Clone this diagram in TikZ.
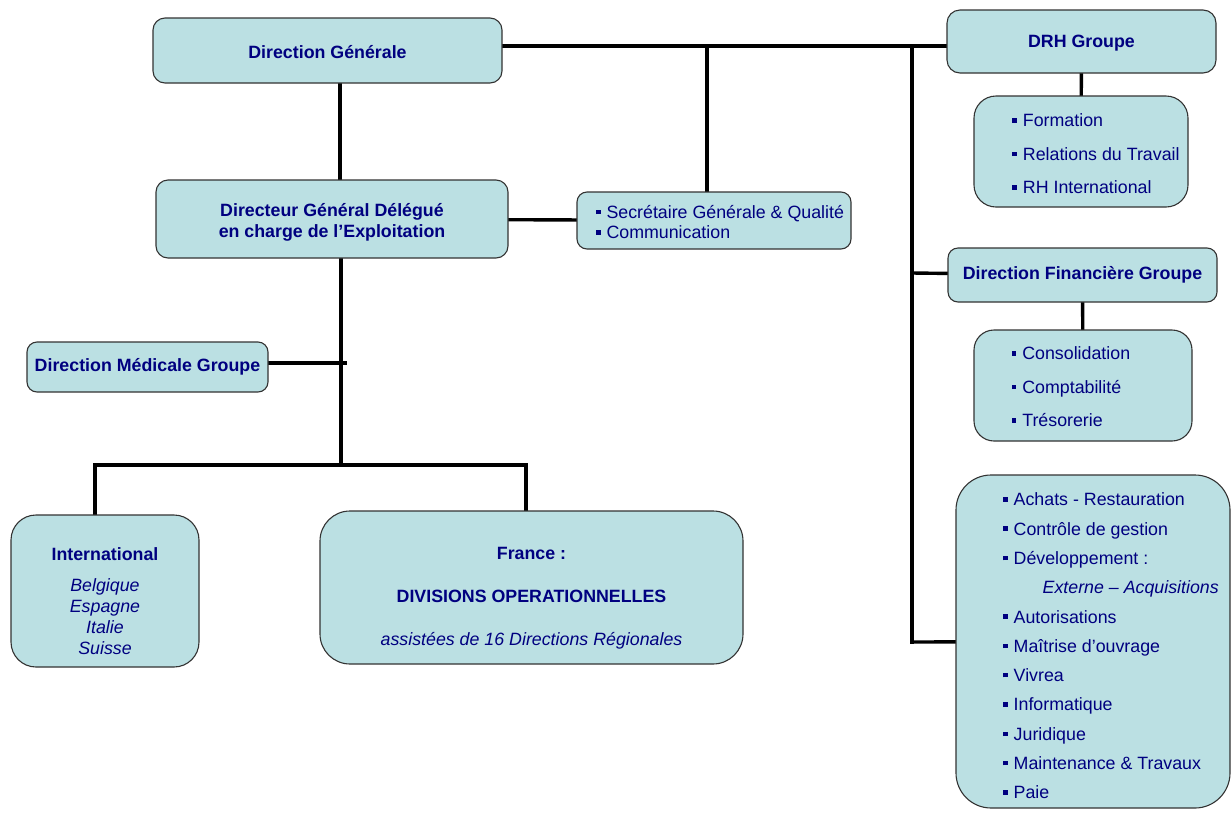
\documentclass[tikz,border=0pt]{standalone}
\usepackage{fontspec}
\setmainfont{Liberation Sans}
\usepackage{tikz}
\usetikzlibrary{
  chains,
  positioning,
  scopes,
  backgrounds
}
\definecolor{fondboite}{RGB}{187,224,227}
\definecolor{marine}{RGB}{0,0,128}
\newcommand\puce{\makebox[10.5pt][l]{\rule[4.2pt]{4.5pt}{4.5pt}}}
\newcommand\decale[3]{\raisebox{#2}[\height][\depth]{\hspace*{#1}#3\hspace*{-#1}}}
\newcommand\pays[1]{{\mdseries\itshape #1}}

\begin{document}
\begin{tikzpicture}[x=1pt,y=-1pt,
      direction/.style={
         rectangle,
         rounded corners=12pt,
         draw=black!80,
         line width=1.1pt,
         fill=fondboite,
         text=marine,
         inner sep=0pt,
         font=\fontsize{17.8}{21}\selectfont\bfseries
      },
      liste/.style={
         direction,
         font=\fontsize{17.8}{33.5}\selectfont
      },
      point/.style={coordinate},
      trait/.style={line width=3.4pt,draw=black,line cap=rect},
      every join/.style={trait},
      hv path/.style={to path={-| (\tikztotarget)}},
      vh path/.style={to path={|- (\tikztotarget)}}
    ]
    \useasboundingbox (0,0) rectangle (1232,812);

    % boites
    \node (dg) [direction, minimum width=349, minimum height=65] at (327.5,50.5)
       {\decale{0pt}{-2pt}{Direction Générale}};
    \node (dgd) [direction, minimum width=352, minimum height=78] at (332,219)
       {\decale{0pt}{-4pt}{\begin{tabular}{@{}c@{}}Directeur Général Délégué\\en charge de l’Exploitation\end{tabular}}};
    \node (secr) [liste, rounded corners=10pt, minimum width=274, minimum height=57,
       font=\fontsize{17.8}{20.5}\selectfont] at (714,220.5)
       {\decale{6pt}{-4pt}{\begin{tabular}{@{}l@{}}\puce Secrétaire Générale \& Qualité\\\puce Communication\end{tabular}}};
    \node (dmg) [direction, rounded corners=10pt, minimum width=241, minimum height=50] at (147.5,367) {Direction Médicale Groupe};
    \node (intl) [direction, rounded corners=25pt, minimum width=188, minimum height=152] at (105,591)
       {\decale{0pt}{-12pt}{\begin{tabular}{@{}c@{}}International\\[10pt]
          \pays{Belgique}\\\pays{Espagne}\\\pays{Italie}\\\pays{Suisse}\end{tabular}}};
    \node (france) [direction, rounded corners=30pt, minimum width=423, minimum height=153,
       font=\fontsize{17.8}{43}\selectfont\bfseries] at (531.5,587.5)
       {\decale{0pt}{-6pt}{\begin{tabular}{@{}c@{}}France :\\DIVISIONS OPERATIONNELLES\\
          \pays{assistées de 16 Directions Régionales}\end{tabular}}};

    \node (drh) [direction, rounded corners=13pt, minimum width=269, minimum height=63] at (1081.5,41.5)
       {\decale{0pt}{-2pt}{DRH Groupe}};
    \node (form) [liste, rounded corners=22pt, minimum width=214, minimum height=111] at (1081,151.5)
       {\decale{15pt}{-2pt}{\begin{tabular}{@{}l@{}}\puce Formation\\\puce Relations du Travail\\\puce RH International\end{tabular}}};
    \node (dfg) [direction, rounded corners=10pt, minimum width=269, minimum height=54] at (1082.5,275) {Direction Financière Groupe};
    \node (conso) [liste, rounded corners=20pt, minimum width=218, minimum height=111] at (1083,385.5)
       {\decale{-12pt}{-1pt}{\begin{tabular}{@{}l@{}}\puce Consolidation\\\puce Comptabilité\\\puce Trésorerie\end{tabular}}};
    \node (autres) [liste, rounded corners=35pt, minimum width=274, minimum height=333,
       font=\fontsize{17.8}{29.3}\selectfont] at (1093,641.5)
       {\decale{18pt}{-5pt}{\begin{tabular}{@{}l@{}}
          \puce Achats - Restauration\\
          \puce Contrôle de gestion\\
          \puce Développement :\\
          \hspace*{39.5pt}\textit{Externe – Acquisitions}\\
          \puce Autorisations\\
          \puce Maîtrise d’ouvrage\\
          \puce Vivrea\\
          \puce Informatique\\
          \puce Juridique\\
          \puce Maintenance \& Travaux\\
          \puce Paie
       \end{tabular}}};

    % points de jonction
    \node (a1) [point] at (502,46) {};
    \node (a2) [point] at (707,46) {};
    \node (a3) [point] at (912,46) {};
    \node (a4) [point] at (947,46) {};
    \node (a5) [point] at (707,192) {};
    \node (b1) [point] at (340,83) {};
    \node (b2) [point] at (340,180) {};
    \node (d1) [point] at (341,258) {};
    \node (d2) [point] at (341,465) {};
    \node (e1) [point] at (268,363) {};
    \node (e2) [point] at (345,363) {};
    \node (f1) [point] at (95,465) {};
    \node (f2) [point] at (526,465) {};
    \node (f3) [point] at (95,515) {};
    \node (f4) [point] at (526,511) {};
    \node (g1) [point] at (912,273) {};
    \node (g2) [point] at (912,642) {};

    \begin{scope}[on background layer]
  { [start chain]
       \chainin (a1);
       \chainin (a2)    [join];
       \chainin (a3)    [join];
       \chainin (a4)    [join];
  }
  { [start chain]
       \chainin (a2);
       \chainin (a5)    [join];
  }
  { [start chain]
       \chainin (a3);
       \chainin (g1)    [join];
       \chainin (g2)    [join];
  }
  { [start chain]
       \chainin (g1);
       \chainin (dfg)   [join];
  }
  { [start chain]
       \chainin (g2);
       \chainin (autres)   [join];
  }
  { [start chain]
       \chainin (drh);
       \chainin (form)  [join];
  }
  { [start chain]
       \chainin (dfg);
       \chainin (conso) [join];
  }
  { [start chain]
       \chainin (b1);
       \chainin (b2)    [join];
  }
  { [start chain]
       \chainin (dgd);
       \chainin (secr)  [join];
  }
  { [start chain]
       \chainin (d1);
       \chainin (d2)    [join];
  }
  { [start chain]
       \chainin (e1);
       \chainin (e2)    [join];
  }
  { [start chain]
       \chainin (f3);
       \chainin (f1)    [join];
       \chainin (f2)    [join];
       \chainin (f4)    [join];
  }
    \end{scope}
\end{tikzpicture}
\end{document}
